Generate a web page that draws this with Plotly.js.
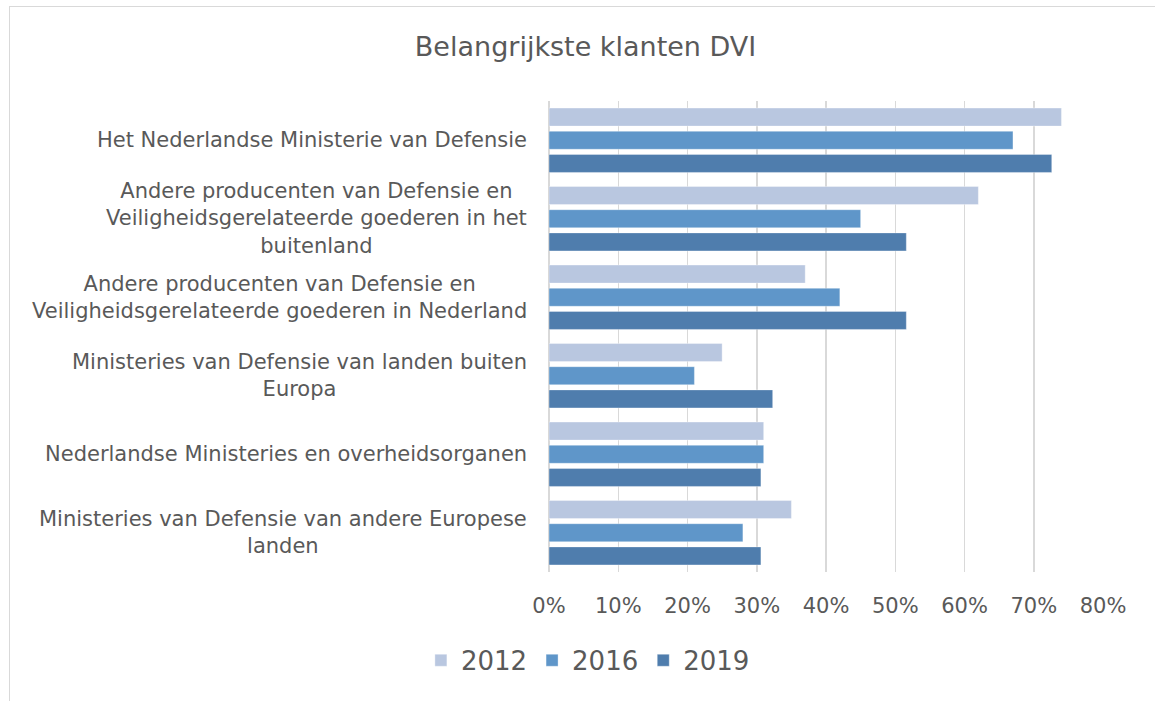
<!DOCTYPE html>
<html>
<head>
<meta charset="utf-8">
<script src="https://cdn.plot.ly/plotly-3.0.1.min.js"></script>
<style>
  html, body { margin: 0; padding: 0; background: #ffffff; }
  #frame { position: absolute; left: 9px; top: 6px; width: 1160px; height: 710px; border: 1px solid #d9d9d9; box-sizing: border-box; }
  #chart { position: absolute; left: 0; top: 0; width: 1155px; height: 701px; }
</style>
</head>
<body>
<div id="frame"></div>
<div id="chart"></div>
<script>
const categories = [
  "Het Nederlandse Ministerie van Defensie",
  "Andere producenten van Defensie en<br>Veiligheidsgerelateerde goederen in het<br>buitenland",
  "Andere producenten van Defensie en<br>Veiligheidsgerelateerde goederen in Nederland",
  "Ministeries van Defensie van landen buiten<br>Europa",
  "Nederlandse Ministeries en overheidsorganen",
  "Ministeries van Defensie van andere Europese<br>landen"
];
const seriesNames = ["2012", "2016", "2019"];
const values2012 = [74, 62, 37, 25, 31, 35];
const values2016 = [67, 45, 42, 21, 31, 28];
const values2019 = [72.6, 51.6, 51.6, 32.3, 30.6, 30.6];
const colors = ["#B9C7E0", "#5F96C9", "#4F7DAD"];
const xTicks = [0, 10, 20, 30, 40, 50, 60, 70, 80];
const xTickLabels = ["0%", "10%", "20%", "30%", "40%", "50%", "60%", "70%", "80%"];

const allValues = [values2012, values2016, values2019];
const traces = seriesNames.map((name, i) => ({
  type: "bar",
  orientation: "h",
  name: name,
  y: categories,
  x: allValues[i],
  marker: { color: colors[i], line: { color: "rgba(255,255,255,0.35)", width: 1 } },
  hoverinfo: "x+name"
}));

const fontFamily = "Verdana, 'DejaVu Sans', sans-serif";
const textColor = "#595959";

const annotations = categories.map(c => ({
  xref: "paper", x: 0, xanchor: "right", xshift: -20,
  yref: "y", y: c, yanchor: "middle",
  text: c, align: "center", showarrow: false,
  font: { family: fontFamily, size: 21, color: textColor }
}));

const layout = {
  width: 1155, height: 701,
  paper_bgcolor: "rgba(0,0,0,0)",
  plot_bgcolor: "rgba(0,0,0,0)",
  margin: { l: 549, r: 52, t: 101, b: 129 },
  font: { family: fontFamily, color: textColor },
  title: {
    text: "Belangrijkste klanten DVI",
    font: { family: fontFamily, size: 27, color: textColor },
    xref: "container", x: 0.507, xanchor: "center",
    yref: "container", y: 0.933, yanchor: "middle"
  },
  barmode: "group",
  bargap: 0.115,
  bargroupgap: 0.22,
  xaxis: {
    range: [0, 80],
    tickmode: "array",
    tickvals: xTicks,
    ticktext: xTickLabels,
    showgrid: true, gridcolor: "#d9d9d9", gridwidth: 1.5,
    zeroline: true, zerolinecolor: "#d9d9d9", zerolinewidth: 1.5,
    showline: false, ticks: "",
    ticklabelstandoff: 19,
    tickfont: { family: fontFamily, size: 21, color: textColor },
    fixedrange: true
  },
  yaxis: {
    type: "category",
    autorange: "reversed",
    showticklabels: false,
    showgrid: false, zeroline: false, showline: false, ticks: "",
    fixedrange: true
  },
  showlegend: true,
  legend: {
    orientation: "h",
    xref: "container", x: 0.509, xanchor: "center",
    yref: "container", y: 0.058, yanchor: "middle",
    font: { family: fontFamily, size: 26, color: textColor },
    itemwidth: 30,
    traceorder: "normal"
  },
  annotations: annotations
};

Plotly.newPlot("chart", traces, layout, { displayModeBar: false, staticPlot: true });
</script>
</body>
</html>
